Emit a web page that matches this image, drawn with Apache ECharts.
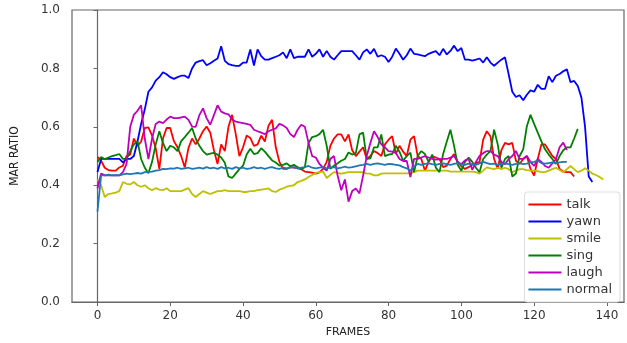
<!DOCTYPE html>
<html>
<head>
<meta charset="utf-8">
<script src="https://cdn.jsdelivr.net/npm/echarts@6/dist/echarts.min.js"></script>
<style>
  html, body { margin: 0; padding: 0; background: #fff; }
  #chart1 { width: 627px; height: 343px; }
</style>
</head>
<body>
<div id="chart1"></div>
<script>
/* MAR ratio per frame, one array per class */

var xTicks = [0, 20, 40, 60, 80, 100, 120, 140];
var yTicks = [0, 0.2, 0.4, 0.6, 0.8, 1.0];

var talk = [
    0.497, 0.484, 0.46, 0.452, 0.45, 0.45, 0.461, 0.467, 0.50, 0.505,
    0.56, 0.534, 0.55, 0.596, 0.598, 0.57, 0.527, 0.456, 0.56, 0.596,
    0.596, 0.551, 0.53, 0.50, 0.461, 0.527, 0.56, 0.54, 0.56, 0.585,
    0.601, 0.58, 0.52, 0.473, 0.54, 0.517, 0.60, 0.641, 0.575, 0.50,
    0.53, 0.57, 0.562, 0.535, 0.54, 0.57, 0.55, 0.604, 0.624, 0.53,
    0.48, 0.456, 0.456, 0.462, 0.46, 0.458, 0.455, 0.447, 0.445, 0.443,
    0.44, 0.444, 0.456, 0.48, 0.535, 0.56, 0.574, 0.574, 0.55, 0.574,
    0.52, 0.50, 0.515, 0.53, 0.49, 0.50, 0.517, 0.51, 0.50, 0.54,
    0.556, 0.568, 0.507, 0.535, 0.515, 0.50, 0.556, 0.568, 0.50, 0.49,
    0.45, 0.48, 0.50, 0.495, 0.49, 0.462, 0.467, 0.49, 0.507, 0.48,
    0.465, 0.456, 0.462, 0.47, 0.476, 0.48, 0.556, 0.585, 0.568, 0.49,
    0.456, 0.52, 0.545, 0.54, 0.545, 0.484, 0.473, 0.49, 0.50, 0.456,
    0.433, 0.49, 0.54, 0.54, 0.52, 0.50, 0.49, 0.456, 0.447, 0.445,
    0.445, 0.43
];

var yawn = [
    0.445, 0.49, 0.49, 0.49, 0.49, 0.49, 0.49, 0.478, 0.49, 0.49,
    0.50, 0.55, 0.61, 0.66, 0.72, 0.735, 0.758, 0.77, 0.787, 0.78,
    0.77, 0.764, 0.77, 0.775, 0.775, 0.767, 0.80, 0.82, 0.825, 0.828,
    0.811, 0.818, 0.826, 0.834, 0.876, 0.826, 0.815, 0.811, 0.809, 0.809,
    0.82, 0.82, 0.865, 0.81, 0.865, 0.842, 0.83, 0.83, 0.835, 0.84,
    0.845, 0.855, 0.835, 0.865, 0.835, 0.84, 0.84, 0.84, 0.865, 0.84,
    0.85, 0.865, 0.84, 0.86, 0.84, 0.83, 0.845, 0.859, 0.859, 0.859,
    0.859, 0.845, 0.83, 0.855, 0.865, 0.85, 0.867, 0.84, 0.845, 0.84,
    0.822, 0.84, 0.868, 0.85, 0.83, 0.845, 0.868, 0.85, 0.848, 0.845,
    0.842, 0.85, 0.855, 0.859, 0.845, 0.867, 0.848, 0.86, 0.878, 0.859,
    0.87, 0.83, 0.83, 0.827, 0.83, 0.834, 0.82, 0.838, 0.82, 0.809,
    0.82, 0.83, 0.838, 0.78, 0.72, 0.702, 0.708, 0.691, 0.71, 0.725,
    0.72, 0.744, 0.73, 0.73, 0.773, 0.753, 0.775, 0.781, 0.79, 0.797,
    0.753, 0.757, 0.74, 0.70, 0.60, 0.43, 0.411
];

var smile = [
    0.42, 0.40, 0.36, 0.37, 0.372, 0.375, 0.38, 0.411, 0.405, 0.403,
    0.411, 0.40, 0.395, 0.40, 0.39, 0.383, 0.39, 0.385, 0.383, 0.39,
    0.38, 0.38, 0.38, 0.38, 0.385, 0.39, 0.37, 0.36, 0.37, 0.38,
    0.375, 0.37, 0.375, 0.38, 0.38, 0.383, 0.38, 0.38, 0.38, 0.38,
    0.377, 0.377, 0.38, 0.38, 0.383, 0.385, 0.387, 0.389, 0.38, 0.377,
    0.385, 0.389, 0.395, 0.398, 0.40, 0.411, 0.415, 0.42, 0.428, 0.435,
    0.442, 0.445, 0.447, 0.425, 0.435, 0.445, 0.442, 0.44, 0.442, 0.445,
    0.445, 0.445, 0.445, 0.445, 0.44, 0.44, 0.434, 0.434, 0.44, 0.441,
    0.441, 0.441, 0.441, 0.441, 0.441, 0.441, 0.441, 0.445, 0.45, 0.45,
    0.45, 0.45, 0.45, 0.45, 0.45, 0.45, 0.45, 0.447, 0.447, 0.447,
    0.447, 0.447, 0.447, 0.447, 0.445, 0.44, 0.45, 0.461, 0.458, 0.455,
    0.46, 0.455, 0.46, 0.455, 0.445, 0.45, 0.455, 0.455, 0.452, 0.45,
    0.45, 0.448, 0.445, 0.445, 0.45, 0.455, 0.46, 0.452, 0.445, 0.455,
    0.466, 0.455, 0.445, 0.45, 0.458, 0.45, 0.44, 0.435, 0.428, 0.42
];

var sing = [
    0.48, 0.497, 0.49, 0.495, 0.50, 0.503, 0.507, 0.49, 0.49, 0.517,
    0.54, 0.551, 0.49, 0.46, 0.441, 0.48, 0.54, 0.585, 0.545, 0.517,
    0.535, 0.53, 0.517, 0.551, 0.565, 0.58, 0.596, 0.56, 0.535, 0.517,
    0.505, 0.508, 0.511, 0.505, 0.495, 0.477, 0.43, 0.425, 0.44, 0.455,
    0.467, 0.505, 0.525, 0.507, 0.51, 0.527, 0.515, 0.50, 0.485, 0.478,
    0.467, 0.47, 0.475, 0.465, 0.47, 0.462, 0.455, 0.462, 0.545, 0.565,
    0.568, 0.575, 0.59, 0.535, 0.456, 0.467, 0.475, 0.484, 0.49, 0.512,
    0.505, 0.51, 0.574, 0.58, 0.49, 0.492, 0.53, 0.53, 0.574, 0.50,
    0.505, 0.507, 0.535, 0.515, 0.484, 0.50, 0.512, 0.445, 0.50, 0.517,
    0.507, 0.48, 0.505, 0.46, 0.445, 0.507, 0.55, 0.59, 0.535, 0.47,
    0.45, 0.48, 0.495, 0.48, 0.46, 0.445, 0.49, 0.505, 0.517, 0.59,
    0.54, 0.46, 0.49, 0.50, 0.43, 0.44, 0.50, 0.523, 0.602, 0.641,
    0.61, 0.58, 0.55, 0.523, 0.505, 0.49, 0.473, 0.50, 0.52, 0.53,
    0.53, 0.56, 0.593
];

var laugh = [
    0.389, 0.44, 0.434, 0.434, 0.434, 0.434, 0.434, 0.445, 0.473, 0.60,
    0.641, 0.655, 0.674, 0.56, 0.49, 0.56, 0.61, 0.618, 0.613, 0.625,
    0.635, 0.63, 0.63, 0.632, 0.635, 0.624, 0.601, 0.60, 0.64, 0.663,
    0.63, 0.607, 0.64, 0.674, 0.652, 0.646, 0.643, 0.625, 0.618, 0.615,
    0.613, 0.61, 0.607, 0.59, 0.585, 0.58, 0.575, 0.585, 0.59, 0.595,
    0.61, 0.605, 0.596, 0.575, 0.565, 0.59, 0.607, 0.60, 0.545, 0.50,
    0.495, 0.473, 0.46, 0.45, 0.49, 0.50, 0.433, 0.383, 0.42, 0.344,
    0.38, 0.389, 0.372, 0.433, 0.50, 0.545, 0.585, 0.565, 0.54, 0.53,
    0.517, 0.515, 0.511, 0.49, 0.483, 0.483, 0.428, 0.49, 0.49, 0.495,
    0.50, 0.495, 0.49, 0.488, 0.489, 0.49, 0.49, 0.495, 0.50, 0.48,
    0.472, 0.485, 0.49, 0.453, 0.48, 0.50, 0.51, 0.517, 0.517, 0.505,
    0.50, 0.48, 0.472, 0.49, 0.50, 0.517, 0.49, 0.49, 0.50, 0.48,
    0.466, 0.49, 0.48, 0.466, 0.46, 0.475, 0.489, 0.53, 0.546, 0.52
];

var normal = [
    0.31, 0.434, 0.434, 0.436, 0.434, 0.435, 0.434, 0.437, 0.44, 0.438,
    0.44, 0.442, 0.44, 0.445, 0.446, 0.447, 0.45, 0.452, 0.456, 0.455,
    0.458, 0.457, 0.46, 0.456, 0.458, 0.46, 0.456, 0.458, 0.46, 0.457,
    0.462, 0.458, 0.46, 0.456, 0.462, 0.458, 0.46, 0.456, 0.462, 0.458,
    0.46, 0.456, 0.458, 0.462, 0.458, 0.46, 0.456, 0.46, 0.462, 0.458,
    0.456, 0.46, 0.458, 0.46, 0.462, 0.458, 0.46, 0.462, 0.466, 0.46,
    0.458, 0.46, 0.462, 0.458, 0.46, 0.462, 0.458, 0.46, 0.464, 0.46,
    0.462, 0.465, 0.468, 0.47, 0.473, 0.47, 0.473, 0.475, 0.472, 0.47,
    0.473, 0.472, 0.47, 0.468, 0.462, 0.458, 0.45, 0.465, 0.473, 0.47,
    0.473, 0.475, 0.472, 0.47, 0.473, 0.475, 0.472, 0.47, 0.473, 0.476,
    0.472, 0.47, 0.474, 0.472, 0.47, 0.475, 0.48, 0.476, 0.472, 0.474,
    0.47, 0.473, 0.475, 0.472, 0.47, 0.473, 0.476, 0.472, 0.474, 0.478,
    0.48, 0.484, 0.476, 0.474, 0.476, 0.478, 0.476, 0.478, 0.48, 0.48
];

var names = ['talk', 'yawn', 'smile', 'sing', 'laugh', 'normal'];
var values = [talk, yawn, smile, sing, laugh, normal];
var colors = ['#ff0000', '#0000ff', '#bfbf00', '#008000', '#bf00bf', '#1f77b4'];

var chart = echarts.init(document.getElementById('chart1'));

var axisFont = {
    fontFamily: 'DejaVu Sans',
    fontSize: 12,
    color: '#333'
};

var option = {
    animation: false,
    backgroundColor: '#fff',
    grid: {
        left: 72,
        right: 3,
        top: 10,
        bottom: 36,
        show: true,
        borderColor: '#666',
        borderWidth: 1.2
    },
    legend: {
        orient: 'vertical',
        right: 7,
        bottom: 41,
        data: names,
        icon: 'rect',
        itemWidth: 33,
        itemHeight: 2,
        itemGap: 2,
        padding: [5, 8, 5, 4],
        backgroundColor: '#fff',
        borderColor: '#ddd',
        borderWidth: 1,
        borderRadius: 3,
        textStyle: {
            fontFamily: 'DejaVu Sans',
            fontSize: 13,
            color: '#333',
            lineHeight: 15
        }
    },
    xAxis: {
        type: 'value',
        min: -7,
        max: 144.7,
        name: 'FRAMES',
        nameLocation: 'middle',
        nameGap: 24,
        nameTextStyle: { fontFamily: 'DejaVu Sans', fontSize: 11, color: '#222' },
        axisLine: { lineStyle: { color: '#666', width: 1.2 } },
        axisTick: { show: true, length: 4, customValues: xTicks, lineStyle: { color: '#666' } },
        axisLabel: Object.assign({ customValues: xTicks, margin: 8 }, axisFont),
        splitLine: { show: false }
    },
    yAxis: {
        type: 'value',
        min: 0,
        max: 1,
        interval: 0.2,
        name: 'MAR RATIO',
        nameLocation: 'middle',
        nameGap: 51,
        nameTextStyle: { fontFamily: 'Liberation Sans Narrow, DejaVu Sans Condensed, sans-serif', fontSize: 12, color: '#222' },
        axisLine: { show: true, lineStyle: { color: '#666', width: 1.2 } },
        axisTick: { show: true, length: 4, lineStyle: { color: '#666' } },
        axisLabel: Object.assign({
            margin: 12,
            formatter: function (v) { return v.toFixed(1); }
        }, axisFont),
        splitLine: { show: false }
    },
    series: []
};

for (var i = 0; i < names.length; i++) {
    option.series.push({
        name: names[i],
        type: 'line',
        data: values[i].map(function (v, k) { return [k, v]; }),
        symbol: 'none',
        color: colors[i],
        lineStyle: { width: 1.8, color: colors[i] },
        z: 2 + i
    });
}

chart.setOption(option);
</script>
</body>
</html>
